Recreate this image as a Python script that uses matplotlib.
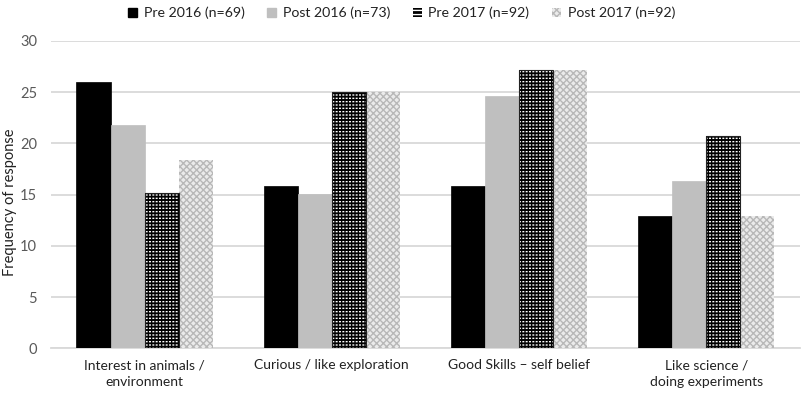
import numpy as np
import matplotlib
matplotlib.use("Agg")
import matplotlib.pyplot as plt
from matplotlib.patches import Patch

categories = [
    "Interest in animals /\nenvironment",
    "Curious / like exploration",
    "Good Skills \u2013 self belief",
    "Like science /\ndoing experiments",
]
series_names = ["Pre 2016 (n=69)", "Post 2016 (n=73)", "Pre 2017 (n=92)", "Post 2017 (n=92)"]
pre_2016 = [26.0, 15.8, 15.8, 12.9]
post_2016 = [21.8, 15.1, 24.6, 16.3]
pre_2017 = [15.2, 25.0, 27.2, 20.7]
post_2017 = [18.4, 25.0, 27.2, 12.9]
y_ticks = [0, 5, 10, 15, 20, 25, 30]

plt.rcParams["font.family"] = ["Lato", "DejaVu Sans"]
plt.rcParams["hatch.linewidth"] = 1.0

fig = plt.figure(figsize=(8.03, 3.96), dpi=100)
ax = fig.add_axes([0.0635, 0.1205, 0.9325, 0.776])

x = np.arange(len(categories))
width = 0.182
offsets = (np.arange(4) - 1.5) * width

ax.bar(x + offsets[0], pre_2016, width, color="black", edgecolor="black", linewidth=0.5, zorder=3)
ax.bar(x + offsets[1], post_2016, width, color="#bfbfbf", edgecolor="#bfbfbf", linewidth=0.5, zorder=3)
# black bar with small white dashes
ax.bar(x + offsets[2], pre_2017, width, color="black", edgecolor="white", hatch="-----",
       linewidth=0, zorder=3)
ax.bar(x + offsets[2], pre_2017, width, color="none", edgecolor="black", hatch="|||||",
       linewidth=0, zorder=4)
ax.bar(x + offsets[2], pre_2017, width, color="none", edgecolor="#222222", linewidth=0.8, zorder=5)
# light checkerboard
ax.bar(x + offsets[3], post_2017, width, color="#ebebeb", edgecolor="#b8b8b8", hatch="xxxxx",
       linewidth=0, zorder=3)

ax.set_xlim(-0.5, len(categories) - 0.5)
ax.set_ylim(0, 30)
ax.set_yticks(y_ticks)
ax.set_xticks(x)
ax.set_xticklabels(categories, fontsize=10, color="#222222", linespacing=1.5)
ax.tick_params(axis="y", length=0, pad=10, labelsize=10.5, labelcolor="#595959")
ax.tick_params(axis="x", length=0, pad=8)
ax.yaxis.grid(True, color="#d9d9d9", linewidth=1.3, zorder=0)
ax.set_axisbelow(True)
for side in ["top", "right", "left"]:
    ax.spines[side].set_visible(False)
ax.spines["bottom"].set_color("#d9d9d9")
ax.spines["bottom"].set_linewidth(1.3)

fig.text(0.013, 0.49, "Frequency of response", rotation=90, ha="center", va="center",
         fontsize=10.5, color="#222222")

handles = [
    Patch(facecolor="black", edgecolor="black"),
    Patch(facecolor="#bfbfbf", edgecolor="#bfbfbf"),
    Patch(facecolor="black", edgecolor="white", hatch="----", linewidth=0),
    Patch(facecolor="#ebebeb", edgecolor="#b8b8b8", hatch="xxxxx", linewidth=0),
]
fig.legend(handles, series_names, loc="center", bbox_to_anchor=(0.5, 0.967), ncol=4,
           frameon=False, fontsize=10.2, handlelength=0.65, handleheight=0.65,
           handletextpad=0.45, columnspacing=1.6, labelcolor="#222222")

fig.savefig("out.png", dpi=100)
